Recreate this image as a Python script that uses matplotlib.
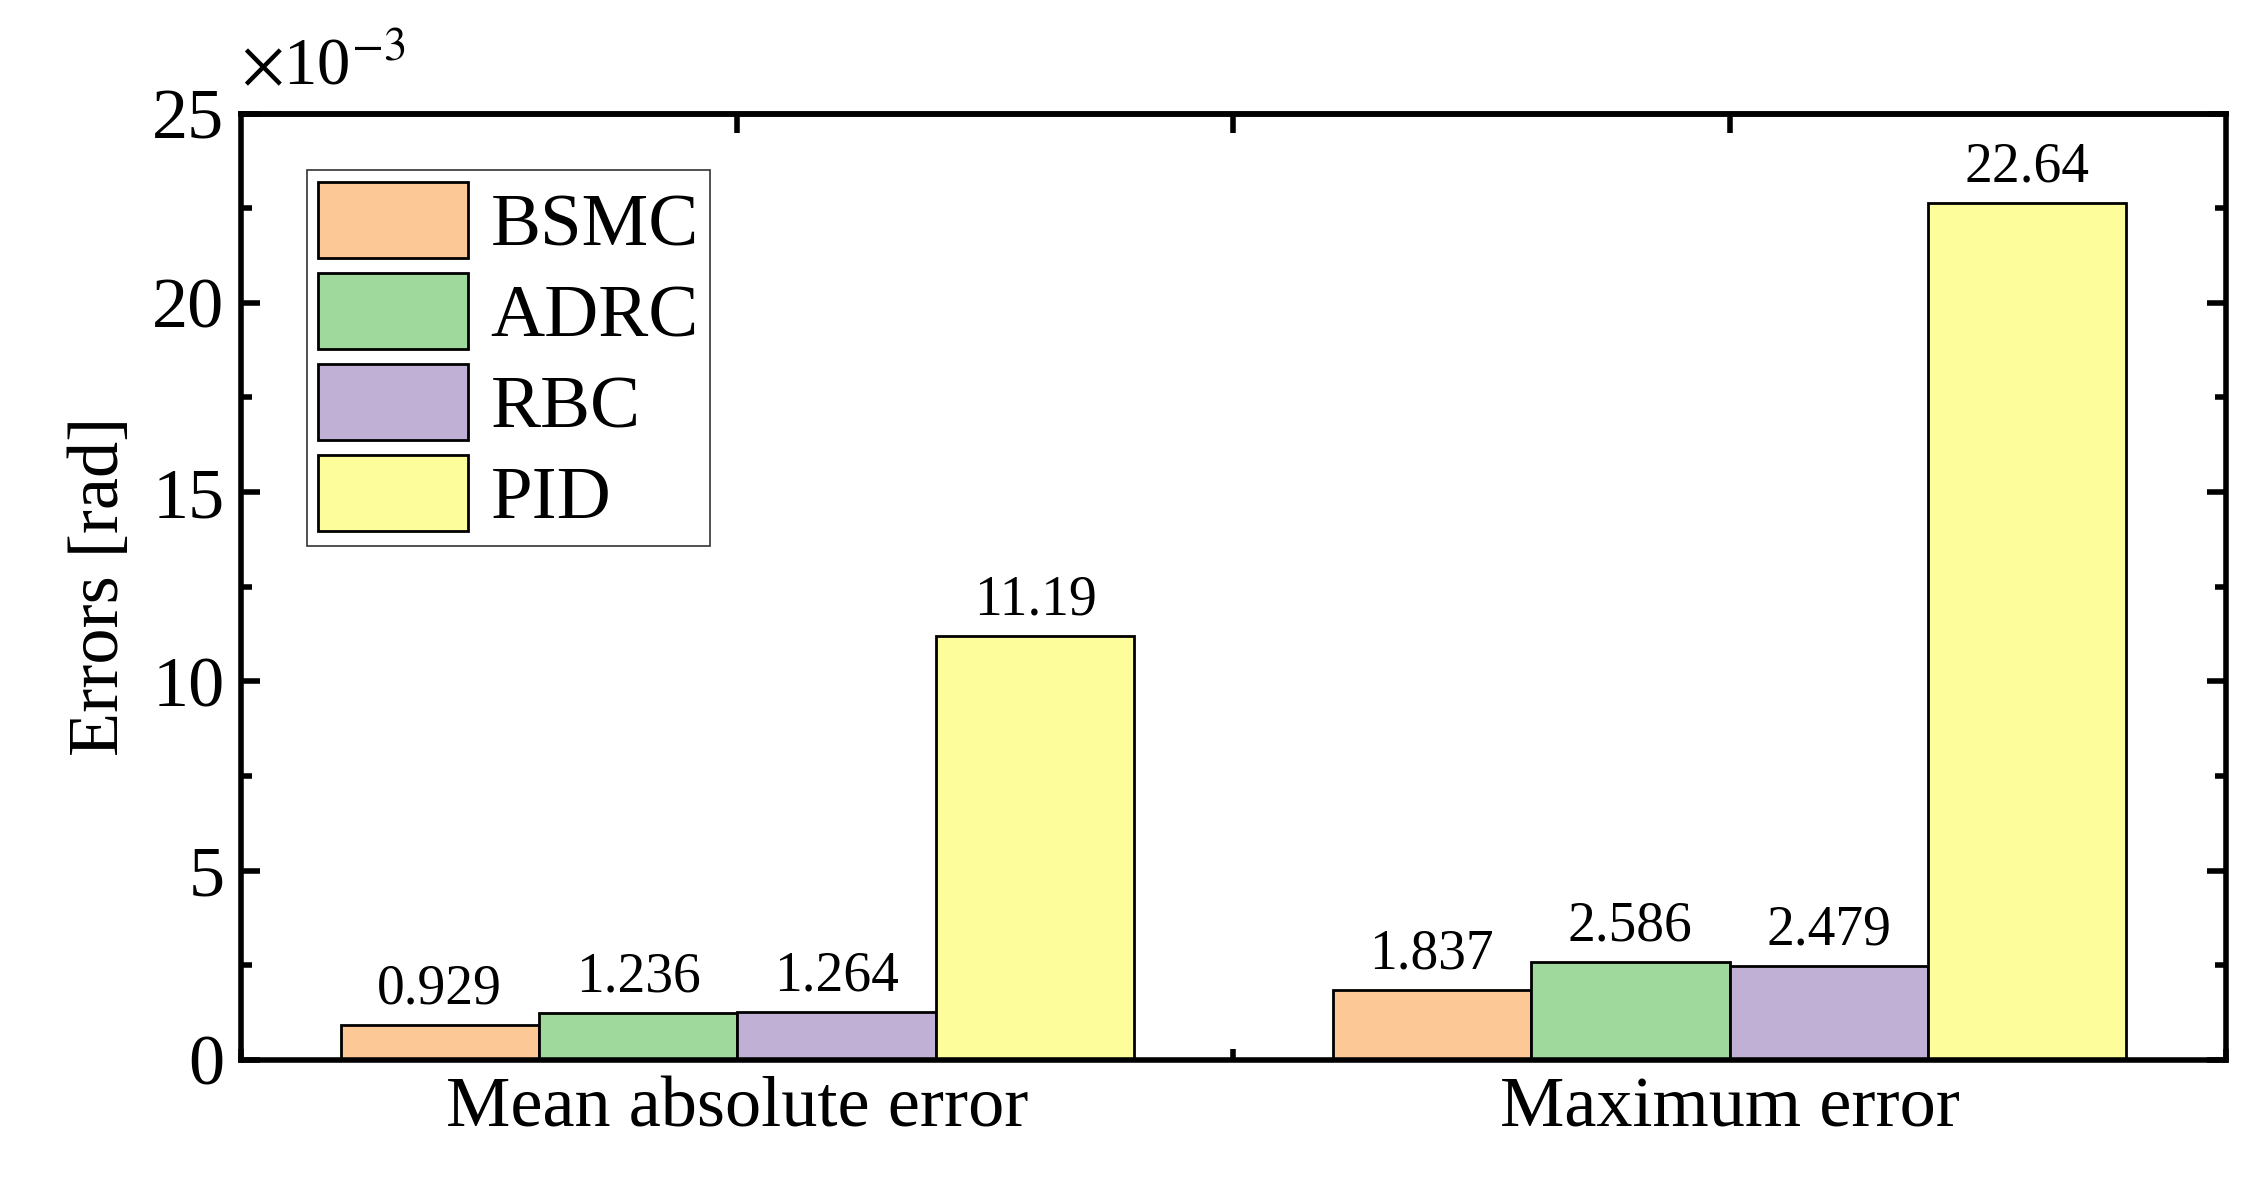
import matplotlib
matplotlib.use("Agg")
import matplotlib.pyplot as plt
from matplotlib.ticker import MultipleLocator
import numpy as np

plt.rcParams['font.family'] = ['Liberation Serif', 'DejaVu Serif']
plt.rcParams['mathtext.fontset'] = 'stix'

groups = ["Mean absolute error", "Maximum error"]
methods = ["BSMC", "ADRC", "RBC", "PID"]
colors = ["#fbc896", "#9fd99b", "#c0b0d6", "#fdfd9c"]
values = {
    "BSMC": [0.929, 1.837],
    "ADRC": [1.236, 2.586],
    "RBC": [1.264, 2.479],
    "PID": [11.19, 22.64],
}
labels = {
    "BSMC": ["0.929", "1.837"],
    "ADRC": ["1.236", "2.586"],
    "RBC": ["1.264", "2.479"],
    "PID": ["11.19", "22.64"],
}

fig = plt.figure(figsize=(22.55, 11.83), dpi=100)
ax = fig.add_axes([0.107, 0.104, 0.880, 0.800])
x = np.arange(len(groups))
w = 0.2
for i, m in enumerate(methods):
    pos = x + (i - 1.5) * w
    bars = ax.bar(pos, values[m], w, color=colors[i], edgecolor='black', linewidth=2, label=m)
    for b, t in zip(bars, labels[m]):
        ax.text(b.get_x() + b.get_width() / 2, b.get_height() + 0.25, t,
                ha='center', va='bottom', fontsize=40)

ax.set_xlim(-0.5, 1.5)
ax.set_ylim(0, 25)
ax.set_xticks(x)
ax.set_xticklabels(groups, fontsize=52)
ax.xaxis.set_minor_locator(MultipleLocator(0.5))
ax.yaxis.set_major_locator(MultipleLocator(5))
ax.yaxis.set_minor_locator(MultipleLocator(2.5))
ax.tick_params(axis='both', which='both', direction='in', top=False, right=True, width=4)
ax.tick_params(axis='both', which='major', length=14, labelsize=52, pad=12)
ax.tick_params(axis='both', which='minor', length=8)
ax.tick_params(axis='x', which='major', length=0)
sec = ax.secondary_xaxis('top')
sec.set_xticks([0, 0.5, 1])
sec.tick_params(direction='in', length=14, width=4, labeltop=False)
sec.spines['top'].set_linewidth(4)
for s in ax.spines.values():
    s.set_linewidth(4)
ax.set_ylabel("Errors [rad]", fontsize=52, labelpad=14)
ax.text(0.0, 1.015, r"$\times$10$^{-3}$", transform=ax.transAxes, fontsize=48, ha='left', va='bottom')

leg = ax.legend(loc='upper left', fontsize=54, frameon=True, fancybox=False,
                edgecolor='black', handlelength=2.0, handleheight=1.2,
                bbox_to_anchor=(0.033, 0.94), borderaxespad=0, labelspacing=0.15,
                handletextpad=0.3, borderpad=0.15)
leg.get_frame().set_linewidth(1.2)

fig.savefig("out.png", dpi=100)
